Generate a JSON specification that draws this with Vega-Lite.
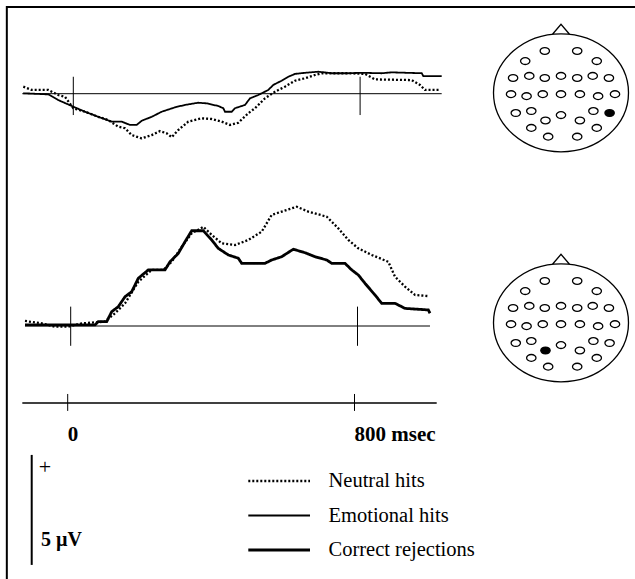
{
  "$schema": "https://vega.github.io/schema/vega-lite/v6.json",
  "width": 635,
  "height": 579,
  "autosize": "none",
  "padding": 0,
  "background": "white",
  "config": {
    "view": {"stroke": null},
    "axis": {"disable": true},
    "legend": {"disable": true},
    "text": {"font": "Liberation Serif", "color": "black"}
  },
  "datasets": {
    "top": [
      {"condition": "Neutral hits", "t": -139.5, "uv": 0.32},
      {"condition": "Neutral hits", "t": -116, "uv": 0.17},
      {"condition": "Neutral hits", "t": -69.7, "uv": 0.17},
      {"condition": "Neutral hits", "t": -41.8, "uv": -0.06},
      {"condition": "Neutral hits", "t": -23.2, "uv": -0.14},
      {"condition": "Neutral hits", "t": 0, "uv": -0.66},
      {"condition": "Neutral hits", "t": 32.6, "uv": -0.82},
      {"condition": "Neutral hits", "t": 69.7, "uv": -1.05},
      {"condition": "Neutral hits", "t": 97.6, "uv": -1.2},
      {"condition": "Neutral hits", "t": 125.5, "uv": -1.5},
      {"condition": "Neutral hits", "t": 144.2, "uv": -1.57},
      {"condition": "Neutral hits", "t": 162.9, "uv": -1.88},
      {"condition": "Neutral hits", "t": 190.8, "uv": -2.03},
      {"condition": "Neutral hits", "t": 218.7, "uv": -1.88},
      {"condition": "Neutral hits", "t": 241.8, "uv": -1.7},
      {"condition": "Neutral hits", "t": 260.5, "uv": -1.8},
      {"condition": "Neutral hits", "t": 274.5, "uv": -1.98},
      {"condition": "Neutral hits", "t": 292.9, "uv": -1.65},
      {"condition": "Neutral hits", "t": 320.8, "uv": -1.27},
      {"condition": "Neutral hits", "t": 358.2, "uv": -1.12},
      {"condition": "Neutral hits", "t": 386.1, "uv": -1.15},
      {"condition": "Neutral hits", "t": 413.9, "uv": -1.27},
      {"condition": "Neutral hits", "t": 437.1, "uv": -1.42},
      {"condition": "Neutral hits", "t": 460.3, "uv": -1.32},
      {"condition": "Neutral hits", "t": 488.1, "uv": -0.89},
      {"condition": "Neutral hits", "t": 506.8, "uv": -0.66},
      {"condition": "Neutral hits", "t": 534.7, "uv": -0.21},
      {"condition": "Neutral hits", "t": 562.6, "uv": 0.09},
      {"condition": "Neutral hits", "t": 590.5, "uv": 0.32},
      {"condition": "Neutral hits", "t": 618.4, "uv": 0.59},
      {"condition": "Neutral hits", "t": 646.3, "uv": 0.7},
      {"condition": "Neutral hits", "t": 674.2, "uv": 0.85},
      {"condition": "Neutral hits", "t": 692.9, "uv": 0.93},
      {"condition": "Neutral hits", "t": 767.1, "uv": 0.93},
      {"condition": "Neutral hits", "t": 813.7, "uv": 0.9},
      {"condition": "Neutral hits", "t": 841.6, "uv": 0.65},
      {"condition": "Neutral hits", "t": 943.9, "uv": 0.62},
      {"condition": "Neutral hits", "t": 967.1, "uv": 0.4},
      {"condition": "Neutral hits", "t": 981, "uv": 0.17},
      {"condition": "Neutral hits", "t": 1022.9, "uv": 0.17},
      {"condition": "Emotional hits", "t": -139.5, "uv": 0.02},
      {"condition": "Emotional hits", "t": -69.7, "uv": -0.03},
      {"condition": "Emotional hits", "t": -41.8, "uv": -0.29},
      {"condition": "Emotional hits", "t": 0, "uv": -0.59},
      {"condition": "Emotional hits", "t": 32.6, "uv": -0.82},
      {"condition": "Emotional hits", "t": 69.7, "uv": -1.05},
      {"condition": "Emotional hits", "t": 107.1, "uv": -1.27},
      {"condition": "Emotional hits", "t": 135, "uv": -1.27},
      {"condition": "Emotional hits", "t": 158.2, "uv": -1.42},
      {"condition": "Emotional hits", "t": 176.8, "uv": -1.42},
      {"condition": "Emotional hits", "t": 190.8, "uv": -1.23},
      {"condition": "Emotional hits", "t": 218.7, "uv": -1.05},
      {"condition": "Emotional hits", "t": 246.6, "uv": -0.82},
      {"condition": "Emotional hits", "t": 283.7, "uv": -0.62},
      {"condition": "Emotional hits", "t": 311.6, "uv": -0.51},
      {"condition": "Emotional hits", "t": 348.7, "uv": -0.41},
      {"condition": "Emotional hits", "t": 372.1, "uv": -0.44},
      {"condition": "Emotional hits", "t": 404.5, "uv": -0.56},
      {"condition": "Emotional hits", "t": 418.4, "uv": -0.66},
      {"condition": "Emotional hits", "t": 423.2, "uv": -0.82},
      {"condition": "Emotional hits", "t": 441.8, "uv": -0.82},
      {"condition": "Emotional hits", "t": 451, "uv": -0.66},
      {"condition": "Emotional hits", "t": 479, "uv": -0.51},
      {"condition": "Emotional hits", "t": 492.9, "uv": -0.21},
      {"condition": "Emotional hits", "t": 516, "uv": -0.06},
      {"condition": "Emotional hits", "t": 543.9, "uv": 0.17},
      {"condition": "Emotional hits", "t": 557.9, "uv": 0.4},
      {"condition": "Emotional hits", "t": 581.3, "uv": 0.59},
      {"condition": "Emotional hits", "t": 599.7, "uv": 0.77},
      {"condition": "Emotional hits", "t": 618.4, "uv": 0.9},
      {"condition": "Emotional hits", "t": 646.3, "uv": 0.95},
      {"condition": "Emotional hits", "t": 683.4, "uv": 1.0},
      {"condition": "Emotional hits", "t": 720.8, "uv": 0.93},
      {"condition": "Emotional hits", "t": 767.1, "uv": 0.93},
      {"condition": "Emotional hits", "t": 804.5, "uv": 0.95},
      {"condition": "Emotional hits", "t": 860.3, "uv": 0.93},
      {"condition": "Emotional hits", "t": 888.1, "uv": 0.97},
      {"condition": "Emotional hits", "t": 971.8, "uv": 0.93},
      {"condition": "Emotional hits", "t": 976.3, "uv": 0.8},
      {"condition": "Emotional hits", "t": 1027.6, "uv": 0.8}
    ],
    "bottom": [
      {"condition": "Neutral hits", "t": -127.5, "uv": 0.23},
      {"condition": "Neutral hits", "t": -80.9, "uv": 0.12},
      {"condition": "Neutral hits", "t": -43.8, "uv": -0.03},
      {"condition": "Neutral hits", "t": -6.7, "uv": -0.03},
      {"condition": "Neutral hits", "t": 30.7, "uv": 0.12},
      {"condition": "Neutral hits", "t": 95.7, "uv": 0.2},
      {"condition": "Neutral hits", "t": 123.6, "uv": 0.58},
      {"condition": "Neutral hits", "t": 151.5, "uv": 1.03},
      {"condition": "Neutral hits", "t": 188.6, "uv": 2.01},
      {"condition": "Neutral hits", "t": 225.9, "uv": 2.55},
      {"condition": "Neutral hits", "t": 258.3, "uv": 2.55},
      {"condition": "Neutral hits", "t": 281.7, "uv": 2.92},
      {"condition": "Neutral hits", "t": 309.6, "uv": 3.6},
      {"condition": "Neutral hits", "t": 337.5, "uv": 4.21},
      {"condition": "Neutral hits", "t": 369.9, "uv": 4.51},
      {"condition": "Neutral hits", "t": 393.3, "uv": 4.14},
      {"condition": "Neutral hits", "t": 421.2, "uv": 3.76},
      {"condition": "Neutral hits", "t": 458.3, "uv": 3.68},
      {"condition": "Neutral hits", "t": 495.4, "uv": 3.91},
      {"condition": "Neutral hits", "t": 532.8, "uv": 4.29},
      {"condition": "Neutral hits", "t": 560.7, "uv": 5.05},
      {"condition": "Neutral hits", "t": 588.6, "uv": 5.2},
      {"condition": "Neutral hits", "t": 630.4, "uv": 5.42},
      {"condition": "Neutral hits", "t": 662.8, "uv": 5.2},
      {"condition": "Neutral hits", "t": 714.1, "uv": 4.97},
      {"condition": "Neutral hits", "t": 746.4, "uv": 4.44},
      {"condition": "Neutral hits", "t": 774.3, "uv": 3.91},
      {"condition": "Neutral hits", "t": 802.2, "uv": 3.53},
      {"condition": "Neutral hits", "t": 839.6, "uv": 3.23},
      {"condition": "Neutral hits", "t": 885.9, "uv": 2.92},
      {"condition": "Neutral hits", "t": 904.6, "uv": 2.24},
      {"condition": "Neutral hits", "t": 932.5, "uv": 1.79},
      {"condition": "Neutral hits", "t": 960.4, "uv": 1.41},
      {"condition": "Neutral hits", "t": 997.5, "uv": 1.36},
      {"condition": "Correct rejections", "t": -127.5, "uv": 0.05},
      {"condition": "Correct rejections", "t": -53, "uv": 0.05},
      {"condition": "Correct rejections", "t": 67.8, "uv": 0.05},
      {"condition": "Correct rejections", "t": 77, "uv": 0.2},
      {"condition": "Correct rejections", "t": 100.4, "uv": 0.2},
      {"condition": "Correct rejections", "t": 114.4, "uv": 0.65},
      {"condition": "Correct rejections", "t": 132.8, "uv": 0.88},
      {"condition": "Correct rejections", "t": 151.5, "uv": 1.33},
      {"condition": "Correct rejections", "t": 170.2, "uv": 1.56},
      {"condition": "Correct rejections", "t": 188.6, "uv": 2.17},
      {"condition": "Correct rejections", "t": 216.5, "uv": 2.55},
      {"condition": "Correct rejections", "t": 263, "uv": 2.55},
      {"condition": "Correct rejections", "t": 277, "uv": 2.92},
      {"condition": "Correct rejections", "t": 300.1, "uv": 3.3},
      {"condition": "Correct rejections", "t": 318.8, "uv": 3.83},
      {"condition": "Correct rejections", "t": 337.5, "uv": 4.33},
      {"condition": "Correct rejections", "t": 369.9, "uv": 4.33},
      {"condition": "Correct rejections", "t": 393.3, "uv": 3.91},
      {"condition": "Correct rejections", "t": 411.7, "uv": 3.53},
      {"condition": "Correct rejections", "t": 439.6, "uv": 3.23},
      {"condition": "Correct rejections", "t": 467.5, "uv": 3.08},
      {"condition": "Correct rejections", "t": 477, "uv": 2.85},
      {"condition": "Correct rejections", "t": 542, "uv": 2.85},
      {"condition": "Correct rejections", "t": 560.7, "uv": 3.0},
      {"condition": "Correct rejections", "t": 588.6, "uv": 3.15},
      {"condition": "Correct rejections", "t": 620.9, "uv": 3.49},
      {"condition": "Correct rejections", "t": 653.6, "uv": 3.33},
      {"condition": "Correct rejections", "t": 681.5, "uv": 3.15},
      {"condition": "Correct rejections", "t": 714.1, "uv": 3.0},
      {"condition": "Correct rejections", "t": 728, "uv": 2.85},
      {"condition": "Correct rejections", "t": 765.1, "uv": 2.85},
      {"condition": "Correct rejections", "t": 783.8, "uv": 2.55},
      {"condition": "Correct rejections", "t": 802.2, "uv": 2.32},
      {"condition": "Correct rejections", "t": 820.9, "uv": 1.94},
      {"condition": "Correct rejections", "t": 848.8, "uv": 1.41},
      {"condition": "Correct rejections", "t": 867.5, "uv": 1.03},
      {"condition": "Correct rejections", "t": 904.6, "uv": 1.03},
      {"condition": "Correct rejections", "t": 932.5, "uv": 0.8},
      {"condition": "Correct rejections", "t": 997.5, "uv": 0.73},
      {"condition": "Correct rejections", "t": 1002.2, "uv": 0.58}
    ],
    "ticks": [
      {"t": 0, "label": "0"},
      {"t": 800, "label": "800 msec"}
    ],
    "legend": [
      {"condition": "Neutral hits"},
      {"condition": "Emotional hits"},
      {"condition": "Correct rejections"}
    ],
    "electrodes": [
      {"ex": -0.24, "ey": 0.62, "active": ""},
      {"ex": 0.24, "ey": 0.62, "active": ""},
      {"ex": -0.53, "ey": 0.47, "active": ""},
      {"ex": 0.53, "ey": 0.47, "active": ""},
      {"ex": -0.71, "ey": 0.22, "active": ""},
      {"ex": -0.47, "ey": 0.25, "active": ""},
      {"ex": -0.24, "ey": 0.22, "active": ""},
      {"ex": 0, "ey": 0.25, "active": ""},
      {"ex": 0.24, "ey": 0.22, "active": ""},
      {"ex": 0.47, "ey": 0.25, "active": ""},
      {"ex": 0.71, "ey": 0.22, "active": ""},
      {"ex": -0.74, "ey": -0.02, "active": ""},
      {"ex": -0.51, "ey": -0.05, "active": ""},
      {"ex": -0.27, "ey": -0.02, "active": ""},
      {"ex": 0, "ey": -0.02, "active": ""},
      {"ex": 0.28, "ey": -0.02, "active": ""},
      {"ex": 0.55, "ey": -0.05, "active": ""},
      {"ex": 0.8, "ey": -0.02, "active": ""},
      {"ex": -0.67, "ey": -0.3, "active": ""},
      {"ex": -0.44, "ey": -0.27, "active": ""},
      {"ex": -0.23, "ey": -0.41, "active": "bottom"},
      {"ex": 0, "ey": -0.33, "active": ""},
      {"ex": 0.28, "ey": -0.41, "active": ""},
      {"ex": 0.48, "ey": -0.27, "active": ""},
      {"ex": 0.72, "ey": -0.3, "active": "top"},
      {"ex": -0.44, "ey": -0.52, "active": ""},
      {"ex": 0.53, "ey": -0.52, "active": ""},
      {"ex": -0.19, "ey": -0.65, "active": ""},
      {"ex": 0.24, "ey": -0.65, "active": ""}
    ]
  },
  "resolve": {"scale": {"x": "independent", "y": "independent"}},
  "layer": [
    {
      "data": {"name": "top"},
      "layer": [
        {
          "data": {"values": [{}]},
          "mark": {"type": "rule", "stroke": "black", "strokeWidth": 1},
          "encoding": {
            "x": {"datum": -142.3, "type": "quantitative", "scale": {"domain": [-200, 1200], "range": [1.6, 503.5], "nice": false, "zero": false}},
            "x2": {"datum": 1027.6},
            "y": {"datum": 0, "type": "quantitative", "scale": {"domain": [-5, 5], "range": [203.7, -16.3], "nice": false, "zero": false}}
          }
        },
        {
          "data": {"name": "ticks"},
          "mark": {"type": "rule", "stroke": "black", "strokeWidth": 1},
          "encoding": {
            "x": {"field": "t", "type": "quantitative"},
            "y": {"datum": -0.97, "type": "quantitative"},
            "y2": {"datum": 0.77}
          }
        },
        {
          "mark": {"type": "line", "color": "black"},
          "encoding": {
            "x": {"field": "t", "type": "quantitative"},
            "y": {"field": "uv", "type": "quantitative"},
            "strokeDash": {"field": "condition", "type": "nominal", "scale": {"domain": ["Neutral hits", "Emotional hits", "Correct rejections"], "range": [[2, 2], [1, 0], [1, 0]]}},
            "strokeWidth": {"field": "condition", "type": "nominal", "scale": {"type": "ordinal", "domain": ["Neutral hits", "Emotional hits", "Correct rejections"], "range": [2.3, 1.8, 2.8]}}
          }
        }
      ]
    },
    {
      "data": {"name": "bottom"},
      "layer": [
        {
          "data": {"values": [{}]},
          "mark": {"type": "rule", "stroke": "black", "strokeWidth": 1},
          "encoding": {
            "x": {"datum": -127.5, "type": "quantitative", "scale": {"domain": [-200, 1200], "range": [-1.0, 500.9], "nice": false, "zero": false}},
            "x2": {"datum": 1002.2},
            "y": {"datum": 0, "type": "quantitative", "scale": {"domain": [-6, 6], "range": [458, 194], "nice": false, "zero": false}}
          }
        },
        {
          "data": {"name": "ticks"},
          "mark": {"type": "rule", "stroke": "black", "strokeWidth": 1},
          "encoding": {
            "x": {"field": "t", "type": "quantitative"},
            "y": {"datum": -0.9, "type": "quantitative"},
            "y2": {"datum": 0.88}
          }
        },
        {
          "mark": {"type": "line", "color": "black"},
          "encoding": {
            "x": {"field": "t", "type": "quantitative"},
            "y": {"field": "uv", "type": "quantitative"},
            "strokeDash": {"field": "condition", "type": "nominal", "scale": {"domain": ["Neutral hits", "Emotional hits", "Correct rejections"], "range": [[2, 2], [1, 0], [1, 0]]}},
            "strokeWidth": {"field": "condition", "type": "nominal", "scale": {"type": "ordinal", "domain": ["Neutral hits", "Emotional hits", "Correct rejections"], "range": [2.3, 1.8, 2.8]}}
          }
        }
      ]
    },
    {
      "data": {"values": [{}]},
      "layer": [
        {
          "mark": {"type": "rect", "fill": null, "fillOpacity": 0, "stroke": "black", "strokeWidth": 2},
          "encoding": {
            "x": {"datum": -169.8, "type": "quantitative", "scale": {"domain": [-200, 1200], "range": [-4.0, 497.9], "nice": false, "zero": false}},
            "x2": {"datum": 1700},
            "y": {"datum": 14.5, "type": "quantitative", "scale": {"domain": [-6, 6], "range": [458, 194], "nice": false, "zero": false}},
            "y2": {"datum": -15}
          }
        },
        {
          "mark": {"type": "rule", "stroke": "black", "strokeWidth": 1.3},
          "encoding": {
            "x": {"datum": -126.6, "type": "quantitative"},
            "x2": {"datum": 1029.3},
            "y": {"datum": -3.5, "type": "quantitative"}
          }
        },
        {
          "data": {"name": "ticks"},
          "mark": {"type": "rule", "stroke": "black", "strokeWidth": 1},
          "encoding": {
            "x": {"field": "t", "type": "quantitative"},
            "y": {"datum": -3.09, "type": "quantitative"},
            "y2": {"datum": -3.86}
          }
        },
        {
          "data": {"name": "ticks"},
          "mark": {"type": "text", "align": "left", "baseline": "middle", "fontSize": 21, "fontWeight": "bold", "font": "Liberation Serif", "fill": "black"},
          "encoding": {
            "x": {"field": "t", "type": "quantitative"},
            "y": {"datum": -4.95, "type": "quantitative"},
            "text": {"field": "label"}
          }
        },
        {
          "mark": {"type": "rule", "stroke": "black", "strokeWidth": 2},
          "encoding": {
            "x": {"datum": -100.4, "type": "quantitative"},
            "y": {"datum": -5.86, "type": "quantitative"},
            "y2": {"datum": -10.86}
          }
        },
        {
          "mark": {"type": "text", "text": "+", "align": "center", "baseline": "middle", "fontSize": 22, "font": "Liberation Serif", "fill": "black"},
          "encoding": {
            "x": {"datum": -63.3, "type": "quantitative"},
            "y": {"datum": -6.41, "type": "quantitative"}
          }
        },
        {
          "mark": {"type": "text", "text": "5 µV", "align": "left", "baseline": "middle", "fontSize": 20, "fontWeight": "bold", "font": "Liberation Serif", "fill": "black"},
          "encoding": {
            "x": {"datum": -74.5, "type": "quantitative"},
            "y": {"datum": -9.73, "type": "quantitative"}
          }
        }
      ]
    },
    {
      "data": {"name": "legend"},
      "layer": [
        {
          "mark": {"type": "rule", "color": "black"},
          "encoding": {
            "x": {"datum": 0, "type": "quantitative", "scale": {"domain": [0, 1], "range": [248.3, 310], "nice": false, "zero": false}},
            "x2": {"datum": 1},
            "y": {"field": "condition", "type": "nominal", "scale": {"type": "point", "domain": ["Neutral hits", "Emotional hits", "Correct rejections"], "range": [481, 550], "padding": 0}},
            "strokeDash": {"field": "condition", "type": "nominal", "scale": {"domain": ["Neutral hits", "Emotional hits", "Correct rejections"], "range": [[2, 2], [1, 0], [1, 0]]}},
            "strokeWidth": {"field": "condition", "type": "nominal", "scale": {"type": "ordinal", "domain": ["Neutral hits", "Emotional hits", "Correct rejections"], "range": [2.3, 1.8, 2.8]}}
          }
        },
        {
          "mark": {"type": "text", "align": "left", "baseline": "middle", "fontSize": 20.5, "font": "Liberation Serif", "fill": "black"},
          "encoding": {
            "x": {"datum": 1.3, "type": "quantitative"},
            "y": {"field": "condition", "type": "nominal"},
            "text": {"field": "condition"}
          }
        }
      ]
    },
    {
      "data": {"name": "electrodes"},
      "layer": [
        {
          "data": {"values": [{}]},
          "mark": {"type": "point", "shape": "M1,0C1,0.483,0.552,0.874,0,0.874C-0.552,0.874,-1,0.483,-1,0C-1,-0.483,-0.552,-0.874,0,-0.874C0.552,-0.874,1,-0.483,1,0ZM-0.123,-0.871L0,-1.015L0.123,-0.871", "size": 18225, "filled": false, "stroke": "black", "strokeWidth": 1.3, "opacity": 1},
          "encoding": {
            "x": {"datum": 0, "type": "quantitative", "scale": {"domain": [-1, 1], "range": [493.5, 628.5], "nice": false, "zero": false}},
            "y": {"datum": 0, "type": "quantitative", "scale": {"domain": [-1, 1], "range": [160.3, 25.3], "nice": false, "zero": false}}
          }
        },
        {
          "mark": {"type": "point", "shape": "M1,0C1,0.403,0.552,0.73,0,0.73C-0.552,0.73,-1,0.403,-1,0C-1,-0.403,-0.552,-0.73,0,-0.73C0.552,-0.73,1,-0.403,1,0Z", "size": 88, "filled": true, "stroke": "black", "strokeWidth": 1.3, "opacity": 1},
          "encoding": {
            "x": {"field": "ex", "type": "quantitative"},
            "y": {"field": "ey", "type": "quantitative"},
            "fill": {"condition": {"test": "datum.active === 'top'", "value": "black"}, "value": "white"}
          }
        }
      ]
    },
    {
      "data": {"name": "electrodes"},
      "layer": [
        {
          "data": {"values": [{}]},
          "mark": {"type": "point", "shape": "M1,0C1,0.483,0.552,0.874,0,0.874C-0.552,0.874,-1,0.483,-1,0C-1,-0.483,-0.552,-0.874,0,-0.874C0.552,-0.874,1,-0.483,1,0ZM-0.123,-0.871L0,-1.015L0.123,-0.871", "size": 18225, "filled": false, "stroke": "black", "strokeWidth": 1.3, "opacity": 1},
          "encoding": {
            "x": {"datum": 0, "type": "quantitative", "scale": {"domain": [-1, 1], "range": [493.5, 628.5], "nice": false, "zero": false}},
            "y": {"datum": 0, "type": "quantitative", "scale": {"domain": [-1, 1], "range": [390.3, 255.3], "nice": false, "zero": false}}
          }
        },
        {
          "mark": {"type": "point", "shape": "M1,0C1,0.403,0.552,0.73,0,0.73C-0.552,0.73,-1,0.403,-1,0C-1,-0.403,-0.552,-0.73,0,-0.73C0.552,-0.73,1,-0.403,1,0Z", "size": 88, "filled": true, "stroke": "black", "strokeWidth": 1.3, "opacity": 1},
          "encoding": {
            "x": {"field": "ex", "type": "quantitative"},
            "y": {"field": "ey", "type": "quantitative"},
            "fill": {"condition": {"test": "datum.active === 'bottom'", "value": "black"}, "value": "white"}
          }
        }
      ]
    }
  ]
}
